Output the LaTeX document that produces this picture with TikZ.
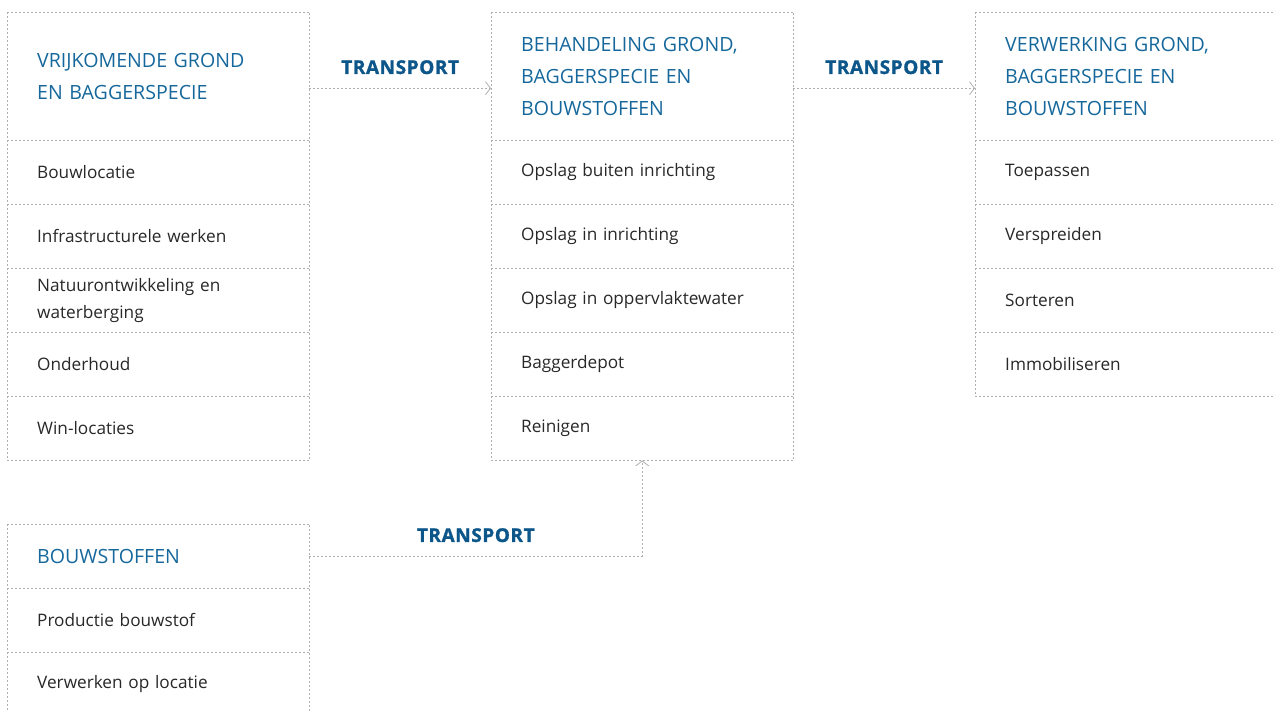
\documentclass[tikz,border=0pt]{standalone}
\usepackage{fontspec}
\setmainfont{Open Sans}
\newfontfamily\trfont[LetterSpace=3, BoldFeatures={FakeBold=1.2}]{Open Sans}
\usetikzlibrary{arrows.meta}
\definecolor{hdblue}{RGB}{22,104,156}
\definecolor{trblue}{RGB}{12,86,138}
\definecolor{txt}{RGB}{40,40,40}
\definecolor{ln}{RGB}{175,175,175}
\tikzset{
 cell/.style={rectangle, anchor=north west,
   minimum width=302pt, text width=242pt, inner xsep=30pt, inner ysep=0pt, align=left,
   font=\fontsize{17.2}{27}\selectfont, text=txt, minimum height=64pt},
 head/.style={cell, font=\fontsize{19.6}{32}\selectfont, text=hdblue},
 dl/.style={draw=ln, dash pattern=on 2pt off 2pt, line width=0.8pt},
 conn/.style={dl, -{Straight Barb[length=5pt,width=13pt,line width=0.8pt]}},
 tr/.style={font=\trfont\bfseries\fontsize{19}{20}\selectfont, text=trblue, inner sep=0pt}
}
\begin{document}
\begin{tikzpicture}[x=1pt,y=-1pt]
\clip (0,0) rectangle (1274,711);
% box 1
\node[head, minimum height=128pt] (a0) at (7,12) {VRIJKOMENDE GROND\\EN BAGGERSPECIE};
\node[cell] (a1) at (7,140) {Bouwlocatie};
\node[cell] (a2) at (7,204) {Infrastructurele werken};
\node[cell] (a3) at (7,268) {Natuurontwikkeling en\\waterberging};
\node[cell] (a4) at (7,332) {Onderhoud};
\node[cell] (a5) at (7,396) {Win-locaties};
\draw[dl] (a0.north west) rectangle (a5.south east);
\foreach \n in {a1,a2,a3,a4,a5} \draw[dl] (\n.north west) -- (\n.north east);
% box 2
\node[head, minimum height=128pt] (b0) at (491,12) {BEHANDELING GROND,\\BAGGERSPECIE EN\\BOUWSTOFFEN};
\node[cell] (b1) at (491,140) {Opslag buiten inrichting};
\node[cell] (b2) at (491,204) {Opslag in inrichting};
\node[cell] (b3) at (491,268) {Opslag in oppervlaktewater};
\node[cell] (b4) at (491,332) {Baggerdepot};
\node[cell] (b5) at (491,396) {Reinigen};
\draw[dl] (b0.north west) rectangle (b5.south east);
\foreach \n in {b1,b2,b3,b4,b5} \draw[dl] (\n.north west) -- (\n.north east);
% box 3
\node[head, minimum height=128pt] (c0) at (975,12) {VERWERKING GROND,\\BAGGERSPECIE EN\\BOUWSTOFFEN};
\node[cell] (c1) at (975,140) {Toepassen};
\node[cell] (c2) at (975,204) {Verspreiden};
\node[cell] (c3) at (975,268) {Sorteren};
\node[cell] (c4) at (975,332) {Immobiliseren};
\draw[dl] (c0.north west) rectangle (c4.south east);
\foreach \n in {c1,c2,c3,c4} \draw[dl] (\n.north west) -- (\n.north east);
% box 4
\node[head] (d0) at (7,524) {BOUWSTOFFEN};
\node[cell] (d1) at (7,588) {Productie bouwstof};
\node[cell] (d2) at (7,652) {Verwerken op locatie};
\draw[dl] (d0.north west) rectangle (d2.south east);
\foreach \n in {d1,d2} \draw[dl] (\n.north west) -- (\n.north east);
% connectors
\draw[conn] ([yshift=-12pt]a0.east) -- node[midway, yshift=21pt, tr] (t1) {TRANSPORT} ([yshift=-12pt]b0.west);
\draw[conn] ([yshift=-12pt]b0.east) -- node[midway, yshift=21pt, tr] (t2) {TRANSPORT} ([yshift=-12pt]c0.west);
\draw[conn] (d0.east) -| node[pos=0.25, yshift=21pt, tr] (t3) {TRANSPORT} (b5.south);
\end{tikzpicture}
\end{document}
